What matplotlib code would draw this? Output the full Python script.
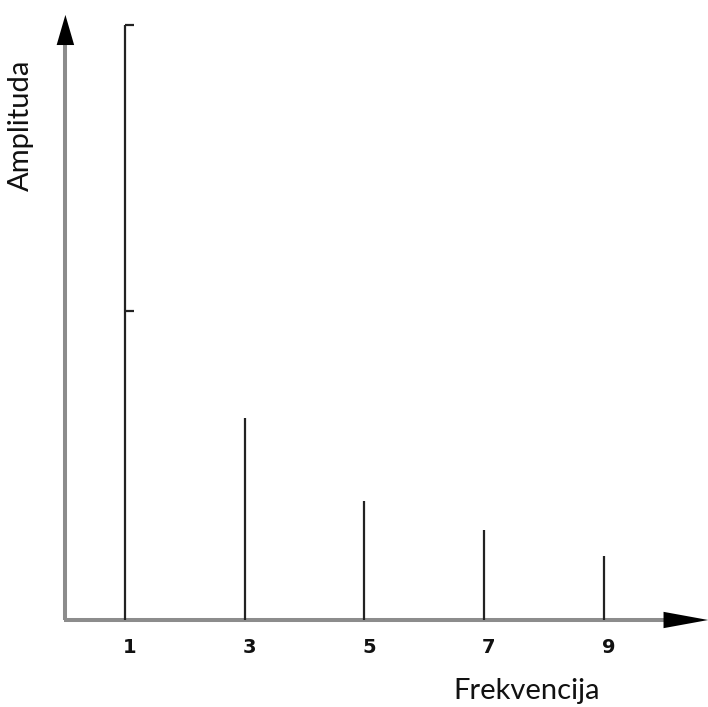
import matplotlib
matplotlib.use("Agg")
import matplotlib.pyplot as plt

harmonics = [1, 3, 5, 7, 9]
amplitudes = [1.0, 0.34, 0.20, 0.151, 0.108]
tick_labels = ["1", "3", "5", "7", "9"]
yticks = [1.0, 0.52]

fig = plt.figure(figsize=(7.08, 7.07), dpi=100)
ax = fig.add_axes([0, 0, 1, 1])
px_x = 59.8
x0 = 65.4
px_y = 595.0
y0 = 620.0
ax.set_xlim(-x0 / px_x, (708 - x0) / px_x)
ax.set_ylim(-(707 - y0) / px_y, y0 / px_y)
ax.axis("off")

gray = "#8c8c8c"
# axes lines
ax.plot([0, 0], [0, 0.966], color=gray, lw=2.9, solid_capstyle="butt", zorder=2)
ax.plot([-0.02, 10.02], [0, 0], color=gray, lw=2.9, solid_capstyle="butt", zorder=2)
# arrowheads
ax.annotate("", xy=(0, 1.017), xytext=(0, 0.9),
            arrowprops=dict(arrowstyle="-|>,head_length=1.55,head_width=0.45",
                            mutation_scale=14, color="black", lw=0,
                            shrinkA=0, shrinkB=0))
ax.annotate("", xy=(10.75, 0), xytext=(9.9, 0),
            arrowprops=dict(arrowstyle="-|>,head_length=2.3,head_width=0.42",
                            mutation_scale=14, color="black", lw=0,
                            shrinkA=0, shrinkB=0))

# stems
ax.vlines(harmonics, 0, amplitudes, colors="#222222", lw=1.6, zorder=3)
# small ticks on first stem
ax.hlines(yticks, harmonics[0], harmonics[0] + 0.14, colors="#222222", lw=1.6, zorder=3)

for h, lab in zip(harmonics, tick_labels):
    ax.text(h + 0.08, -0.047, lab, ha="center", va="center", fontsize=14,
            fontweight="heavy", family="DejaVu Sans", color="#111111")

ax.text(7.71, -0.12, "Frekvencija", ha="center", va="center", fontsize=21,
        family="Lato", color="#111111")
ax.text(-0.74, 0.832, "Amplituda", ha="center", va="center", fontsize=21,
        family="Lato", rotation=90, color="#111111")

fig.savefig("out.png", dpi=100)
